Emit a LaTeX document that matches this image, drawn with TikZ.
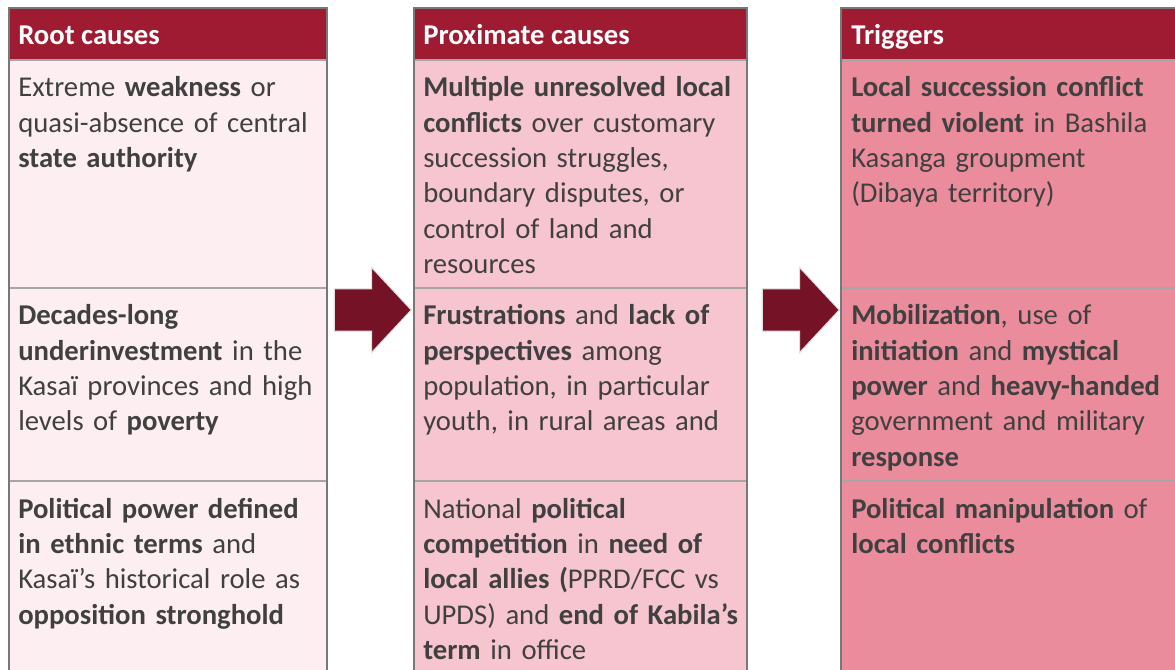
\documentclass[tikz,border=0pt]{standalone}
\usepackage{fontspec}
\setmainfont{Carlito}
\usepackage{tikz}
\usetikzlibrary{shapes.arrows,positioning}
\definecolor{headred}{RGB}{158,27,50}
\definecolor{rootpink}{RGB}{253,238,241}
\definecolor{proxpink}{RGB}{246,197,207}
\definecolor{trigpink}{RGB}{234,140,155}
\definecolor{arrowred}{RGB}{118,18,38}
\definecolor{bodygray}{RGB}{64,64,64}
\definecolor{framegray}{RGB}{120,120,120}
\definecolor{sepgray}{RGB}{166,166,166}

\begin{document}
\begin{tikzpicture}[x=0.75pt,y=-0.75pt,
    headtext/.style={anchor=base west, inner sep=0, text=white, font=\fontsize{21.5}{26.5}\selectfont\bfseries},
    celltext/.style={anchor=base west, inner sep=0, text=bodygray, text width=250pt, align=left, font=\fontsize{21.5}{26.5}\selectfont},
    framerule/.style={framegray, line width=1.2pt},
    seprule/.style={sepgray, line width=1pt},
    bigarrow/.style={single arrow, fill=arrowred, draw=black!12, line width=0.8pt, minimum height=57.75pt, minimum width=63pt, single arrow head extend=16.1pt, single arrow tip angle=94, inner xsep=0pt, inner ysep=15.4pt, anchor=tip}]
        \useasboundingbox (0,0) rectangle (1175,670);
        \clip (0,0) rectangle (1175,670);
        % Column backgrounds and header bars
        \fill[rootpink] (9,60) rectangle (327,680);
        \fill[proxpink] (414,60) rectangle (747,680);
        \fill[trigpink] (841,60) rectangle (1190,680);
        \fill[headred] (9,8) rectangle (327,60);
        \fill[headred] (414,8) rectangle (747,60);
        \fill[headred] (841,8) rectangle (1190,60);
        \draw[seprule] (9,60) -- (327,60) (9,288) -- (327,288) (9,481) -- (327,481);
        \draw[seprule] (414,60) -- (747,60) (414,288) -- (747,288) (414,481) -- (747,481);
        \draw[seprule] (841,60) -- (1190,60) (841,288) -- (1190,288) (841,481) -- (1190,481);
        \draw[framerule] (9,680) -- (9,8) -- (327,8) -- (327,680);
        \draw[framerule] (414,680) -- (414,8) -- (747,8) -- (747,680);
        \draw[framerule] (841,680) -- (841,8) -- (1190,8);
        % Headers
        \node[headtext] (roothead) at (18,45) {Root causes};
        \node[headtext] (proxhead) at (423,45) {Proximate causes};
        \node[headtext] (trighead) at (851,45) {Triggers};
        % Root causes
        \node[celltext] (root1) at (18,97) {Extreme \textbf{weakness} or\\quasi-absence of central\\\textbf{state authority}};
        \node[celltext] (root2) at (18,325) {\textbf{Decades-long}\\\textbf{underinvestment} in the\\Kasaï provinces and high\\levels of \textbf{poverty}};
        \node[celltext] (root3) at (18,518) {\textbf{Political power defined}\\\textbf{in ethnic terms} and\\Kasaï’s historical role as\\\textbf{opposition stronghold}};
        % Proximate causes
        \node[celltext] (prox1) at (423,97) {\textbf{Multiple unresolved local}\\\textbf{conflicts} over customary\\succession struggles,\\boundary disputes, or\\control of land and\\resources};
        \node[celltext] (prox2) at (423,325) {\textbf{Frustrations} and \textbf{lack of}\\\textbf{perspectives} among\\population, in particular\\youth, in rural areas and};
        \node[celltext] (prox3) at (423,518) {National \textbf{political}\\\textbf{competition} in \textbf{need of}\\\textbf{local allies (}PPRD/FCC vs\\UPDS) and \textbf{end of Kabila’s}\\\textbf{term} in office};
        % Triggers
        \node[celltext] (trig1) at (851,97) {\textbf{Local succession conflict}\\\textbf{turned violent} in Bashila\\Kasanga groupment\\(Dibaya territory)};
        \node[celltext] (trig2) at (851,325) {\textbf{Mobilization}, use of\\\textbf{initiation} and \textbf{mystical}\\\textbf{power} and \textbf{heavy-handed}\\government and military\\\textbf{response}};
        \node[celltext] (trig3) at (851,518) {\textbf{Political manipulation} of\\\textbf{local conflicts}};
        % Block arrows between the columns
        \node[bigarrow] (toprox) at (412,310) {};
        \node[bigarrow] (totrig) at (840,310) {};
    \end{tikzpicture}
\end{document}
